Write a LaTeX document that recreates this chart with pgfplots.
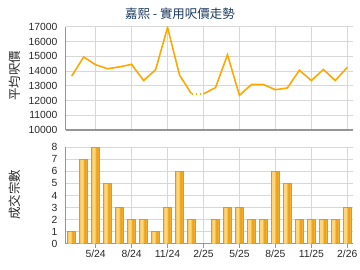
\documentclass[border=0pt]{standalone}
\usepackage{pgfplots}
\usepackage{pgfplotstable}
\pgfplotsset{compat=1.18}
\usepackage{fontspec}
\setmainfont{Liberation Sans}
\newfontfamily\cjk{Noto Sans CJK TC}
\definecolor{lineor}{RGB}{255,168,0}
\definecolor{gridc}{RGB}{216,216,216}
\definecolor{axisc}{RGB}{150,150,150}
\definecolor{titlec}{RGB}{27,58,94}
\definecolor{tickc}{RGB}{40,40,40}
\definecolor{baredge}{RGB}{232,152,14}
\definecolor{barbase}{RGB}{244,176,48}
\definecolor{barlight}{RGB}{255,214,122}
\definecolor{bardark}{RGB}{236,160,30}
\pgfplotsset{
  common/.style={
    scale only axis, width=287.6bp,
    xmin=-0.5, xmax=23.5,
    xtick={2,5,...,23},
    axis x line*=bottom, axis y line*=left,
    axis line style={draw=axisc, line width=1.2bp},
    grid=major, major grid style={draw=gridc, line width=0.8bp},
    ytick style={draw=none},
    yticklabel shift=7bp,
    scaled y ticks=false,
    tick label style={font=\fontsize{10.4}{12}\selectfont, color=tickc, inner sep=1bp},
    /pgf/number format/.cd, 1000 sep={}, assume math mode=true,
  }
}
\pgfplotstableread{
x y
0 1
1 7
2 8
3 5
4 3
5 2
6 2
7 1
8 3
9 6
10 2
12 2
13 3
14 3
15 2
16 2
17 6
18 5
19 2
20 2
21 2
22 2
23 3
}\deals
\begin{document}
\begin{tikzpicture}
\path[use as bounding box] (0bp,0bp) rectangle (360bp,270bp);
\node[color=titlec, font=\cjk\fontsize{12.5}{14}\selectfont] at (180bp,256.5bp) {嘉熙 - 實用呎價走勢};
\node[rotate=90, font=\cjk\fontsize{12.5}{14}\selectfont, color=tickc] at (15bp,194bp) {平均呎價};
\node[rotate=90, font=\cjk\fontsize{12.5}{14}\selectfont, color=tickc] at (15bp,75bp) {成交宗數};
\begin{axis}[common, at={(65.7bp,140bp)}, anchor=south west, height=103.3bp,
  ymin=10000, ymax=17000, ytick={10000,11000,...,17000},
  xticklabels={}, xtick style={draw=none}]
\addplot[lineor, line width=1.6bp] coordinates {
(0,13650) (1,14950) (2,14420) (3,14150) (4,14280) (5,14450) (6,13350) (7,14080) (8,16950) (9,13720) (10,12450)};
\addplot[lineor, line width=1.6bp, dash pattern=on 1.6bp off 2.4bp] coordinates {(10,12450) (11,12450)};
\addplot[lineor, line width=1.6bp] coordinates {
(11,12450) (12,12870) (13,15100) (14,12350) (15,13080) (16,13080) (17,12730) (18,12850) (19,14050) (20,13350) (21,14100) (22,13350) (23,14250)};
\end{axis}
\begin{axis}[common, at={(65.7bp,26.3bp)}, anchor=south west, height=96.4bp,
  ymin=0, ymax=8, ytick={0,1,...,8},
  xticklabels={5/24,8/24,11/24,2/25,5/25,8/25,11/25,2/26},
  xtick style={draw=axisc, line width=0.8bp}, xtick align=outside, major tick length=4bp,
  xticklabel shift=1bp]
\addplot[ybar, bar width=8.3bp, bar shift=0bp, fill=barbase, draw=baredge, line width=0.7bp] table {\deals};
\addplot[ybar, bar width=3.2bp, bar shift=-1.6bp, fill=barlight, draw=none] table[y expr=\thisrow{y}-0.04] {\deals};
\addplot[ybar, bar width=1.6bp, bar shift=1.8bp, fill=bardark, draw=none] table[y expr=\thisrow{y}-0.04] {\deals};
\end{axis}
\end{tikzpicture}
\end{document}
